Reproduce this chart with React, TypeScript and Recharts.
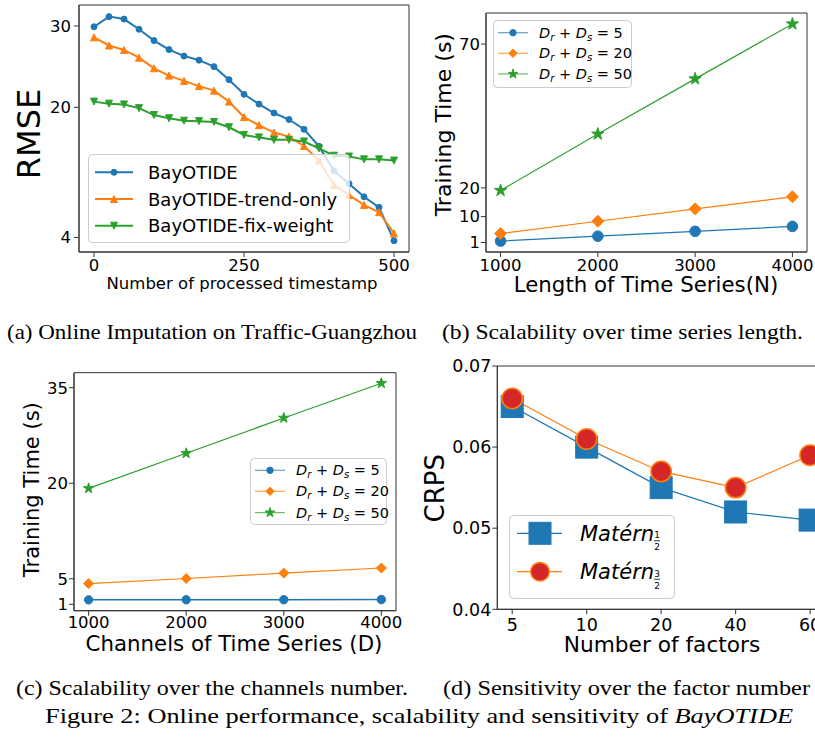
import React from 'react';
import { LineChart, Line, XAxis, YAxis, CartesianGrid, Legend } from 'recharts';

const BLUE = '#1f77b4';
const ORANGE = '#ff7f0e';
const GREEN = '#2ca02c';
const RED = '#d62728';
const FONT = '"DejaVu Sans", Verdana, sans-serif';
const SERIF = '"Liberation Serif", Tinos, "Times New Roman", Times, "Nimbus Roman", FreeSerif, serif';

// ---------- (a) Online imputation ----------
const timestamps = [0, 25, 50, 75, 100, 125, 150, 175, 200, 225, 250, 275, 300, 325, 350, 375, 400, 425, 450, 475, 500];
const rmseBayOTIDE = [29.9, 31.15, 30.85, 29.6, 28.2, 27.1, 26.3, 25.8, 25.0, 23.4, 21.6, 20.4, 19.3, 18.5, 17.3, 15.2, 12.2, 10.6, 9.0, 7.7, 3.6];
const rmseTrendOnly = [28.6, 27.6, 27.05, 26.1, 24.8, 23.9, 23.25, 22.6, 22.05, 20.7, 18.8, 17.8, 16.9, 16.4, 15.25, 13.45, 10.45, 9.2, 8.0, 7.1, 4.5];
const rmseFixWeight = [20.7, 20.45, 20.35, 19.9, 19.05, 18.65, 18.35, 18.3, 18.2, 17.55, 16.6, 16.3, 16.0, 16.0, 15.8, 14.95, 14.05, 13.95, 13.6, 13.6, 13.45];
const rmseTicks = [4, 20, 30];
const timestampTicks = [0, 250, 500];

// ---------- (b) Scalability over length ----------
const seriesLength = [1000, 2000, 3000, 4000];
const lenTimeD5 = [1.5, 3.2, 4.9, 6.6];
const lenTimeD20 = [4.1, 8.4, 12.7, 16.9];
const lenTimeD50 = [19.1, 38.7, 57.9, 77.0];
const lenTimeTicks = [1, 10, 20, 70];

// ---------- (c) Scalability over channels ----------
const channels = [1000, 2000, 3000, 4000];
const chTimeD5 = [1.7, 1.71, 1.73, 1.75];
const chTimeD20 = [4.25, 5.05, 5.9, 6.7];
const chTimeD50 = [19.2, 24.7, 30.25, 35.7];
const chTimeTicks = [1, 5, 20, 35];
const scaleXTicks = [1000, 2000, 3000, 4000];

// ---------- (d) Sensitivity ----------
const factors = ['5', '10', '20', '40', '60'];
const crpsMatern12 = [0.065, 0.06, 0.055, 0.052, 0.051];
const crpsMatern32 = [0.066, 0.061, 0.057, 0.055, 0.059];
const crpsTicks = [0.04, 0.05, 0.06, 0.07];

const dataA = timestamps.map((t, i) => ({ x: t, bay: rmseBayOTIDE[i], trend: rmseTrendOnly[i], fix: rmseFixWeight[i] }));
const dataB = seriesLength.map((n, i) => ({ x: n, d5: lenTimeD5[i], d20: lenTimeD20[i], d50: lenTimeD50[i] }));
const dataC = channels.map((n, i) => ({ x: n, d5: chTimeD5[i], d20: chTimeD20[i], d50: chTimeD50[i] }));
const dataD = factors.map((f, i) => ({ x: i, m12: crpsMatern12[i], m32: crpsMatern32[i] }));

function drawMarker(shape: string, cx: number, cy: number, s: number, fill: string, stroke?: string, sw?: number, key?: string) {
  const st = stroke ?? fill;
  const w = sw ?? 1;
  if (cx == null || cy == null || isNaN(cx) || isNaN(cy)) return <g key={key} />;
  switch (shape) {
    case 'circle':
      return <circle key={key} cx={cx} cy={cy} r={s} fill={fill} stroke={st} strokeWidth={w} />;
    case 'square':
      return <rect key={key} x={cx - s} y={cy - s} width={2 * s} height={2 * s} fill={fill} stroke={st} strokeWidth={w} />;
    case 'triUp':
      return <polygon key={key} points={`${cx},${cy - s} ${cx - s},${cy + s} ${cx + s},${cy + s}`} fill={fill} stroke={st} strokeWidth={w} strokeLinejoin="miter" />;
    case 'triDown':
      return <polygon key={key} points={`${cx},${cy + s} ${cx - s},${cy - s} ${cx + s},${cy - s}`} fill={fill} stroke={st} strokeWidth={w} strokeLinejoin="miter" />;
    case 'diamond':
      return <polygon key={key} points={`${cx},${cy - s} ${cx + s},${cy} ${cx},${cy + s} ${cx - s},${cy}`} fill={fill} stroke={st} strokeWidth={w} />;
    case 'star': {
      const pts: string[] = [];
      for (let k = 0; k < 10; k++) {
        const r = k % 2 === 0 ? s : s * 0.382;
        const a = -Math.PI / 2 + (k * Math.PI) / 5;
        pts.push(`${cx + r * Math.cos(a)},${cy + r * Math.sin(a)}`);
      }
      return <polygon key={key} points={pts.join(' ')} fill={fill} stroke={st} strokeWidth={w} strokeLinejoin="miter" />;
    }
    default:
      return <g key={key} />;
  }
}

const dotOf = (shape: string, s: number, fill: string, stroke?: string, sw?: number) => (p: any) =>
  drawMarker(shape, p.cx, p.cy, s, fill, stroke, sw, `dot-${p.index}`);

const frameH = (props: any) => [props.offset.top, props.offset.top + props.offset.height];
const frameV = (props: any) => [props.offset.left, props.offset.left + props.offset.width];

const tickStyle = (fs: number) => ({ fontSize: fs, fill: '#000', fontFamily: FONT });

function MathD({ x, y, n, fs }: { x: number; y: number; n: number; fs: number }) {
  const sub = fs * 0.7;
  const d = fs * 0.22;
  return (
    <text x={x} y={y} fontFamily={FONT} fontSize={fs} fill="#000">
      <tspan fontStyle="italic">D</tspan>
      <tspan fontStyle="italic" fontSize={sub} dy={d}>r</tspan>
      <tspan dy={-d}> + </tspan>
      <tspan fontStyle="italic">D</tspan>
      <tspan fontStyle="italic" fontSize={sub} dy={d}>s</tspan>
      <tspan dy={-d}> = {n}</tspan>
    </text>
  );
}

const legendBox = (w: number, h: number) => (
  <rect x={0.5} y={0.5} width={w - 1} height={h - 1} rx={4} ry={4} fill="#fff" fillOpacity={0.8} stroke="#cccccc" strokeWidth={1} />
);

// ---------- legends ----------
const seriesA = [
  { key: 'bay', name: 'BayOTIDE', color: BLUE, shape: 'circle', size: 3 },
  { key: 'trend', name: 'BayOTIDE-trend-only', color: ORANGE, shape: 'triUp', size: 3.5 },
  { key: 'fix', name: 'BayOTIDE-fix-weight', color: GREEN, shape: 'triDown', size: 3.5 },
];

const LegendA = () => (
  <svg width={262} height={89} style={{ display: 'block', overflow: 'visible' }}>
    {legendBox(262, 89)}
    {seriesA.map((s, i) => {
      const y = 18.3 + i * 26.7;
      return (
        <g key={s.key}>
          <line x1={7} x2={45} y1={y} y2={y} stroke={s.color} strokeWidth={2} />
          {drawMarker(s.shape, 26, y, s.size, s.color)}
          <text x={60} y={y + 6.6} fontFamily={FONT} fontSize={18} fill="#000">{s.name}</text>
        </g>
      );
    })}
  </svg>
);

const seriesScale = [
  { key: 'd5', n: 5, color: BLUE, shape: 'circle' },
  { key: 'd20', n: 20, color: ORANGE, shape: 'diamond' },
  { key: 'd50', n: 50, color: GREEN, shape: 'star' },
];
const legendScaleSizes: Record<string, number> = { circle: 3.2, diamond: 4.2, star: 5 };

const LegendScale = ({ w, h, rows }: { w: number; h: number; rows: number[] }) => (
  <svg width={w} height={h} style={{ display: 'block', overflow: 'visible' }}>
    {legendBox(w, h)}
    {seriesScale.map((s, i) => {
      const y = rows[i];
      return (
        <g key={s.key}>
          <line x1={5} x2={35} y1={y} y2={y} stroke={s.color} strokeWidth={1.2} strokeOpacity={0.7} />
          {drawMarker(s.shape, 20, y, legendScaleSizes[s.shape], s.color)}
          <MathD x={46} y={y + 5} n={s.n} fs={14.5} />
        </g>
      );
    })}
  </svg>
);

const MaternLabel = ({ x, y, num }: { x: number; y: number; num: string }) => (
  <g>
    <text x={x} y={y + 7.5} fontFamily={FONT} fontStyle="italic" fontSize={21} fill="#000">Matérn</text>
    <text x={x + 77} y={y + 5} fontFamily={FONT} fontSize={9} textAnchor="middle" fill="#000">{num}</text>
    <line x1={x + 74} x2={x + 80} y1={y + 7.5} y2={y + 7.5} stroke="#000" strokeWidth={0.8} />
    <text x={x + 77} y={y + 17} fontFamily={FONT} fontSize={9} textAnchor="middle" fill="#000">2</text>
  </g>
);

const LegendD = () => (
  <svg width={166} height={84} style={{ display: 'block', overflow: 'visible' }}>
    {legendBox(166, 84)}
    <line x1={8} x2={53} y1={18.3} y2={18.3} stroke={BLUE} strokeWidth={1.2} />
    {drawMarker('square', 31, 18.3, 11, BLUE, BLUE, 1)}
    <MaternLabel x={71} y={18.3} num="1" />
    <line x1={8} x2={53} y1={56.7} y2={56.7} stroke={ORANGE} strokeWidth={1.2} />
    {drawMarker('circle', 31, 56.7, 9.3, RED, ORANGE, 1.5)}
    <MaternLabel x={71} y={56.7} num="3" />
  </svg>
);

const legendPos = (left: number, top: number, width: number, height: number) => ({
  position: 'absolute' as const,
  left,
  top,
  width,
  height,
  margin: 0,
  padding: 0,
});

// ---------- charts ----------
const ChartA = () => (
  <LineChart width={412} height={300} data={dataA} margin={{ top: 5, right: 3, bottom: 0, left: 0 }}>
    <CartesianGrid stroke="#333" strokeWidth={1} horizontalCoordinatesGenerator={frameH} verticalCoordinatesGenerator={frameV} />
    <XAxis dataKey="x" type="number" domain={[-25, 525]} ticks={timestampTicks} interval={0} height={48} tickSize={5} tickMargin={2} stroke="#333" tick={tickStyle(16.5)} />
    <YAxis type="number" domain={[2.21, 32.58]} ticks={rmseTicks} interval={0} width={79} tickSize={5} tickMargin={3} stroke="#333" tick={tickStyle(16.5)} />
    <Line dataKey="bay" type="linear" stroke={BLUE} strokeWidth={2} dot={dotOf('circle', 3, BLUE)} activeDot={false} isAnimationActive={false} />
    <Line dataKey="trend" type="linear" stroke={ORANGE} strokeWidth={2} dot={dotOf('triUp', 3.5, ORANGE)} activeDot={false} isAnimationActive={false} />
    <Line dataKey="fix" type="linear" stroke={GREEN} strokeWidth={2} dot={dotOf('triDown', 3.5, GREEN)} activeDot={false} isAnimationActive={false} />
    <Legend layout="vertical" align="center" verticalAlign="middle" width={262} height={89} wrapperStyle={legendPos(88, 154, 262, 89)} content={() => <LegendA />} />
  </LineChart>
);

const ChartB = () => (
  <LineChart width={405} height={300} data={dataB} margin={{ top: 13, right: 8, bottom: 0, left: 0 }}>
    <CartesianGrid stroke="#333" strokeWidth={1} horizontalCoordinatesGenerator={frameH} verticalCoordinatesGenerator={frameV} />
    <XAxis dataKey="x" type="number" domain={[850, 4150]} ticks={scaleXTicks} interval={0} height={48} tickSize={5} tickMargin={2} stroke="#333" tick={tickStyle(16.5)} />
    <YAxis type="number" domain={[-2.3, 80.8]} ticks={lenTimeTicks} interval={0} width={76} tickSize={5} tickMargin={1} stroke="#333" tick={tickStyle(16.5)} />
    <Line dataKey="d5" type="linear" stroke={BLUE} strokeWidth={1.2} dot={dotOf('circle', 5.3, BLUE)} activeDot={false} isAnimationActive={false} />
    <Line dataKey="d20" type="linear" stroke={ORANGE} strokeWidth={1.2} dot={dotOf('diamond', 6, ORANGE)} activeDot={false} isAnimationActive={false} />
    <Line dataKey="d50" type="linear" stroke={GREEN} strokeWidth={1.2} dot={dotOf('star', 6.5, GREEN)} activeDot={false} isAnimationActive={false} />
    <Legend layout="vertical" align="center" verticalAlign="middle" width={139} height={68} wrapperStyle={legendPos(83, 20, 139, 68)} content={() => <LegendScale w={139} h={68} rows={[12.7, 33.3, 54]} />} />
  </LineChart>
);

const ChartC = () => (
  <LineChart width={410} height={300} data={dataC} margin={{ top: 12.7, right: 14, bottom: 0, left: 0 }}>
    <CartesianGrid stroke="#333" strokeWidth={1} horizontalCoordinatesGenerator={frameH} verticalCoordinatesGenerator={frameV} />
    <XAxis dataKey="x" type="number" domain={[850, 4150]} ticks={scaleXTicks} interval={0} height={49.3} tickSize={5} tickMargin={1} stroke="#333" tick={tickStyle(16.5)} />
    <YAxis type="number" domain={[0, 37.35]} ticks={chTimeTicks} interval={0} width={74} tickSize={5} tickMargin={1} stroke="#333" tick={tickStyle(16.5)} />
    <Line dataKey="d5" type="linear" stroke={BLUE} strokeWidth={1.5} dot={dotOf('circle', 4.2, BLUE)} activeDot={false} isAnimationActive={false} />
    <Line dataKey="d20" type="linear" stroke={ORANGE} strokeWidth={1.2} dot={dotOf('diamond', 5, ORANGE)} activeDot={false} isAnimationActive={false} />
    <Line dataKey="d50" type="linear" stroke={GREEN} strokeWidth={1.2} dot={dotOf('star', 5.5, GREEN)} activeDot={false} isAnimationActive={false} />
    <Legend layout="vertical" align="center" verticalAlign="middle" width={137} height={67} wrapperStyle={legendPos(250, 97.7, 137, 67)} content={() => <LegendScale w={137} h={67} rows={[12.3, 33.3, 54.6]} />} />
  </LineChart>
);

const ChartD = () => (
  <LineChart width={420} height={310} data={dataD} margin={{ top: 16, right: 5, bottom: 0, left: 0 }}>
    <CartesianGrid stroke="#333" strokeWidth={1} horizontalCoordinatesGenerator={frameH} verticalCoordinatesGenerator={frameV} />
    <XAxis dataKey="x" type="number" domain={[-0.2, 4.2]} ticks={[0, 1, 2, 3, 4]} interval={0} tickFormatter={(v: number) => factors[v]} height={50.7} tickSize={5} tickMargin={4} stroke="#333" tick={tickStyle(17.5)} />
    <YAxis type="number" domain={[0.04, 0.07]} ticks={crpsTicks} interval={0} tickFormatter={(v: number) => v.toFixed(2)} width={87.3} tickSize={5} tickMargin={1} stroke="#333" tick={tickStyle(17.5)} />
    <Line dataKey="m12" type="linear" stroke={BLUE} strokeWidth={1.2} dot={dotOf('square', 11, BLUE, BLUE, 1)} activeDot={false} isAnimationActive={false} />
    <Line dataKey="m32" type="linear" stroke={ORANGE} strokeWidth={1.2} dot={dotOf('circle', 10.2, RED, ORANGE, 1.5)} activeDot={false} isAnimationActive={false} />
    <Legend layout="vertical" align="center" verticalAlign="middle" width={166} height={84} wrapperStyle={legendPos(99, 165, 166, 84)} content={() => <LegendD />} />
  </LineChart>
);

const VTitle = ({ x, y, fs, text }: { x: number; y: number; fs: number; text: string }) => (
  <text x={x} y={y} transform={`rotate(-90 ${x} ${y})`} textAnchor="middle" fontFamily={FONT} fontSize={fs} fill="#000">{text}</text>
);
const HTitle = ({ x, y, fs, text }: { x: number; y: number; fs: number; text: string }) => (
  <text x={x} y={y} textAnchor="middle" fontFamily={FONT} fontSize={fs} fill="#000">{text}</text>
);

const capStyle = { fontFamily: SERIF };

export default function App() {
  return (
    <div style={{ position: 'absolute', left: 0, top: 0, width: 815, height: 738, overflow: 'hidden', background: '#fff' }}>
      <div style={{ position: 'absolute', left: 0, top: 0 }}><ChartA /></div>
      <div style={{ position: 'absolute', left: 410, top: 0 }}><ChartB /></div>
      <div style={{ position: 'absolute', left: 0, top: 360 }}><ChartC /></div>
      <div style={{ position: 'absolute', left: 410, top: 350 }}><ChartD /></div>
      <svg width={815} height={738} style={{ position: 'absolute', left: 0, top: 0, pointerEvents: 'none' }}>
        <VTitle x={39.5} y={134} fs={32} text="RMSE" />
        <HTitle x={242} y={289} fs={16.5} text="Number of processed timestamp" />
        <VTitle x={451} y={124.7} fs={22} text="Training Time (s)" />
        <HTitle x={646} y={292} fs={21.3} text="Length of Time Series(N)" />
        <VTitle x={39} y={489.7} fs={21} text="Training Time (s)" />
        <HTitle x={234} y={651} fs={21.3} text="Channels of Time Series (D)" />
        <VTitle x={444.5} y={488.3} fs={26} text="CRPS" />
        <HTitle x={662} y={652} fs={21.7} text="Number of factors" />

        <text x={7} y={339} style={capStyle} fontSize={21} fill="#000" textLength={410} lengthAdjust="spacingAndGlyphs">(a) Online Imputation on Traffic-Guangzhou</text>
        <text x={442} y={339} style={capStyle} fontSize={21} fill="#000" textLength={361} lengthAdjust="spacingAndGlyphs">(b) Scalability over time series length.</text>
        <text x={16} y={695} style={capStyle} fontSize={21} fill="#000" textLength={392} lengthAdjust="spacingAndGlyphs">(c) Scalability over the channels number.</text>
        <text x={443} y={695} style={capStyle} fontSize={21} fill="#000" textLength={367} lengthAdjust="spacingAndGlyphs">(d) Sensitivity over the factor number</text>
        <text x={45} y={723} style={capStyle} fontSize={21} fill="#000" textLength={748} lengthAdjust="spacingAndGlyphs">
          Figure 2: Online performance, scalability and sensitivity of <tspan fontStyle="italic">BayOTIDE</tspan>
        </text>
      </svg>
    </div>
  );
}
